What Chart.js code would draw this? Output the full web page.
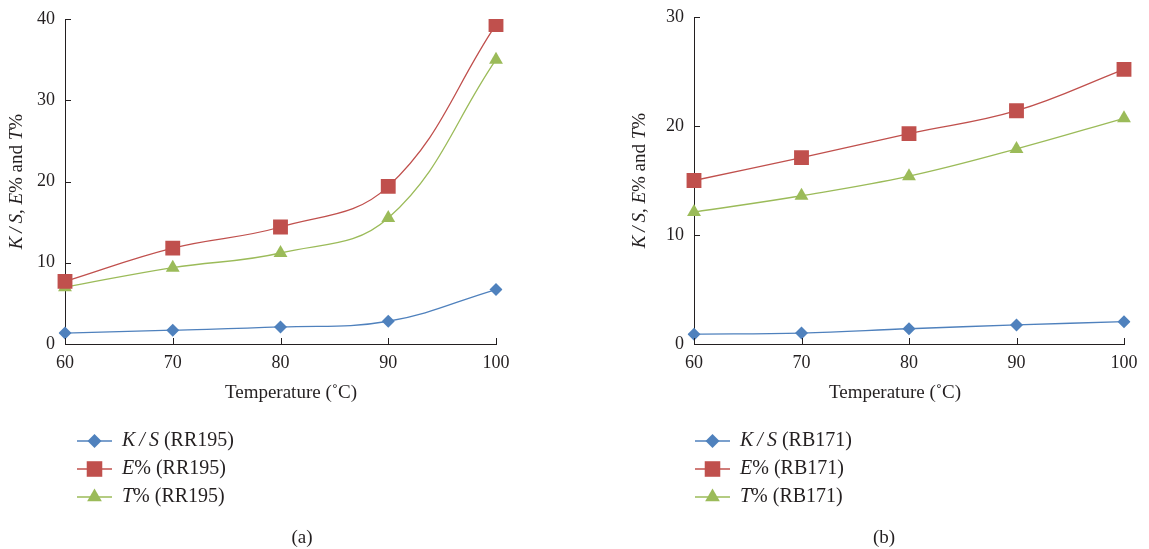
<!DOCTYPE html>
<html>
<head>
<meta charset="utf-8">
<script src="https://cdn.jsdelivr.net/npm/chart.js@4/dist/chart.umd.min.js"></script>
<style>
  html, body { margin: 0; padding: 0; background: #fff; }
  #wrap { position: relative; width: 1149px; height: 549px; }
  .panel { position: absolute; top: 0; height: 549px; }
  #pa { left: 0; width: 620px; }
  #pb { left: 620px; width: 529px; }
</style>
</head>
<body>
<div id="wrap">
  <div class="panel" id="pa"><canvas id="chartA"></canvas></div>
  <div class="panel" id="pb"><canvas id="chartB"></canvas></div>
</div>
<script>
// data
const temps = ['60', '70', '80', '90', '100'];
const ksRR = [1.35, 1.7, 2.1, 2.8, 6.7];
const eRR = [7.7, 11.8, 14.4, 19.4, 39.3];
const tRR = [7.0, 9.4, 11.2, 15.5, 35.0];
const ksRB = [0.9, 1.0, 1.4, 1.75, 2.05];
const eRB = [15.0, 17.1, 19.3, 21.4, 25.2];
const tRB = [12.1, 13.6, 15.4, 17.9, 20.7];
const yTicksA = [0, 10, 20, 30, 40];
const yTicksB = [0, 10, 20, 30];

const blue = '#4f81bd';
const red = '#c0504d';
const green = '#9bbb59';
const ink = '#231f20';
const serif = '"Liberation Serif", "DejaVu Serif", serif';
const tickSize = 18;

// draw text made of italic / upright pieces
function setFont(ctx, italic, size) {
  ctx.font = (italic ? 'italic ' : '') + size + 'px ' + serif;
}
function drawRich(ctx, parts, x, y, align, size) {
  let w = 0;
  parts.forEach(p => { setFont(ctx, p[1], size); w += ctx.measureText(p[0]).width; });
  let cx = align === 'center' ? x - w / 2 : x;
  ctx.textAlign = 'left';
  ctx.textBaseline = 'middle';
  parts.forEach(p => {
    setFont(ctx, p[1], size);
    ctx.fillText(p[0], cx, y);
    cx += ctx.measureText(p[0]).width;
  });
}

const ks = 'K\u2009/\u2009S';
const yTitle = [[ks, true], [', ', false], ['E', true], ['% and ', false], ['T', true], ['%', false]];

const decor = {
  id: 'decor',
  afterDraw(chart, args, opts) {
    const { ctx, chartArea: a, scales: { x, y } } = chart;
    ctx.save();
    // inward tick marks
    ctx.strokeStyle = ink;
    ctx.lineWidth = 1;
    ctx.beginPath();
    y.ticks.forEach((t, i) => {
      const py = Math.round(y.getPixelForTick(i)) + 0.5;
      ctx.moveTo(a.left, py); ctx.lineTo(a.left + 6, py);
    });
    x.ticks.forEach((t, i) => {
      const px = Math.round(x.getPixelForTick(i)) + 0.5;
      ctx.moveTo(px, a.bottom); ctx.lineTo(px, a.bottom - 6);
    });
    ctx.stroke();

    ctx.fillStyle = ink;
    // y axis title
    ctx.save();
    ctx.translate(opts.yTitleX, (a.top + a.bottom) / 2);
    ctx.rotate(-Math.PI / 2);
    drawRich(ctx, yTitle, 0, 0, 'center', 19);
    ctx.restore();

    // x axis title
    drawRich(ctx, [['Temperature (\u02DAC)', false]], opts.xTitleX, opts.xTitleY, 'center', 19);

    // legend
    const lg = opts.legend;
    chart.data.datasets.forEach((ds, i) => {
      const ly = lg.y + i * lg.dy;
      ctx.strokeStyle = ds.borderColor;
      ctx.lineWidth = 1.3;
      ctx.beginPath();
      ctx.moveTo(lg.x, ly); ctx.lineTo(lg.x + lg.len, ly);
      ctx.stroke();
      ctx.fillStyle = ds.backgroundColor;
      Chart.helpers.drawPoint(ctx, { pointStyle: ds.pointStyle, radius: ds.pointRadius + 0.5, borderWidth: 0, rotation: 0 }, lg.x + lg.len / 2, ly);
      ctx.fillStyle = ink;
      drawRich(ctx, ds.rich, lg.textX, ly, 'left', 20);
    });

    // panel caption
    drawRich(ctx, [[opts.caption, false]], opts.capX, opts.capY, 'center', 19);
    ctx.restore();
  }
};

function series(label, rich, data, color, style, radius) {
  return {
    label, rich, data,
    borderColor: color,
    backgroundColor: color,
    borderWidth: 1.3,
    pointStyle: style,
    pointRadius: radius,
    pointHoverRadius: radius,
    pointBorderWidth: 0,
    tension: 0.4,
    fill: false
  };
}

function makeChart(id, sets, yTicks, padRight, yWidth, deco) {
  return new Chart(document.getElementById(id), {
    type: 'line',
    data: { labels: temps, datasets: sets },
    options: {
      responsive: true,
      maintainAspectRatio: false,
      animation: false,
      layout: { padding: { left: 0, top: deco.top, right: padRight, bottom: 0 } },
      plugins: { legend: { display: false }, tooltip: { enabled: false }, decor: deco },
      scales: {
        x: {
          type: 'category',
          offset: false,
          grid: { display: false, drawTicks: false },
          border: { display: true, color: ink, width: 1 },
          ticks: { color: ink, font: { family: serif, size: tickSize }, padding: 8, maxRotation: 0 },
          afterFit: s => { s.height = 549 - deco.bottomArea; s.paddingLeft = 0; s.paddingRight = 0; }
        },
        y: {
          min: yTicks[0],
          max: yTicks[yTicks.length - 1],
          grid: { display: false, drawTicks: false },
          border: { display: true, color: ink, width: 1 },
          ticks: { stepSize: yTicks[1] - yTicks[0], color: ink, font: { family: serif, size: tickSize }, padding: 10 },
          afterFit: s => { s.width = yWidth; s.paddingTop = 0; s.paddingBottom = 0; }
        }
      }
    },
    plugins: [decor]
  });
}

makeChart('chartA', [
  series('K/S (RR195)', [[ks, true], [' (RR195)', false]], ksRR, blue, 'rectRot', 6.5),
  series('E% (RR195)', [['E', true], ['% (RR195)', false]], eRR, red, 'rect', 10.5),
  series('T% (RR195)', [['T', true], ['% (RR195)', false]], tRR, green, 'triangle', 8)
], yTicksA, 124, 65, {
  top: 19, bottomArea: 344, yTitleX: 17, xTitleX: 291, xTitleY: 393,
  legend: { x: 77, y: 441, dy: 28, len: 35, textX: 122 },
  caption: '(a)', capX: 302, capY: 538
});

makeChart('chartB', [
  series('K/S (RB171)', [[ks, true], [' (RB171)', false]], ksRB, blue, 'rectRot', 6.5),
  series('E% (RB171)', [['E', true], ['% (RB171)', false]], eRB, red, 'rect', 10.5),
  series('T% (RB171)', [['T', true], ['% (RB171)', false]], tRB, green, 'triangle', 8)
], yTicksB, 25, 74, {
  top: 17, bottomArea: 344, yTitleX: 20, xTitleX: 275, xTitleY: 393,
  legend: { x: 75, y: 441, dy: 28, len: 35, textX: 120 },
  caption: '(b)', capX: 264, capY: 538
});
</script>
</body>
</html>
